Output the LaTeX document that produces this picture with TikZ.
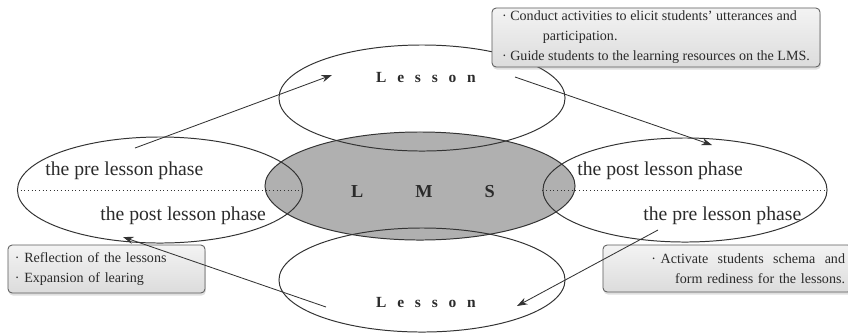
\documentclass[tikz,border=0pt]{standalone}
\usepackage{fontspec}
\setmainfont{Liberation Serif}
\newfontfamily\spacedfont[LetterSpace=70]{Liberation Serif}
\usetikzlibrary{arrows.meta,shapes.geometric,shadows}
\definecolor{Ink}{HTML}{2B2B2B}
\definecolor{Line}{HTML}{333333}
\definecolor{LmsGray}{HTML}{B0B0B0}
\definecolor{BoxTop}{HTML}{F3F3F3}
\definecolor{BoxBot}{HTML}{DCDCDC}
\definecolor{BoxRule}{HTML}{5A5A5A}

\begin{document}
\begin{tikzpicture}[x=0.025cm,y=-0.025cm,
          ring/.style={draw=Line,line width=0.7pt,ellipse,inner sep=0pt},
          phase/.style={font=\fontsize{14}{16}\selectfont,text=Ink,inner sep=0pt},
          lesson/.style={font=\spacedfont\bfseries\fontsize{11}{13}\selectfont,text=Ink,inner sep=0pt},
          note/.style={draw=BoxRule,line width=0.6pt,rounded corners=3pt,
            top color=BoxTop,bottom color=BoxBot,
            drop shadow={shadow xshift=0.5pt,shadow yshift=-1.8pt,opacity=0.25},
            font=\fontsize{10}{14.2}\selectfont,text=Ink,inner xsep=5pt,inner ysep=0pt},
          flow/.style={-{Stealth[length=2.6mm,width=1.8mm]},draw=Line,line width=0.6pt},
          divide/.style={draw=Line,line width=0.6pt,dotted}]
        \useasboundingbox (0,0) rectangle (848,332);
        % the five rings
        \node[ring,fill=LmsGray,minimum width=7.75cm,minimum height=2.7cm] (lms) at (420,186) {};
        \node[ring,minimum width=7.15cm,minimum height=2.65cm] (toplesson) at (422,98) {};
        \node[ring,minimum width=7.15cm,minimum height=2.6cm] (botlesson) at (422,280) {};
        \node[ring,minimum width=7.125cm,minimum height=2.65cm] (leftphase) at (160,190) {};
        \node[ring,minimum width=7.1cm,minimum height=2.6cm] (rightphase) at (685,190) {};
        \draw[divide] (leftphase.west) -- (leftphase.east);
        \draw[divide] (rightphase.west) -- (rightphase.east);
        % labels
        \node[lesson,anchor=base] (toplabel) at (426,82) {Lesson};
        \node[lesson,anchor=base] (botlabel) at (426,307) {Lesson};
        \node[font=\bfseries\fontsize{13}{15}\selectfont,text=Ink,inner sep=0pt,anchor=base]
          (lmslabel) at (423,197) {L\hspace{37pt}M\hspace{37pt}S};
        \node[phase,anchor=base west] (leftpre) at (45,175) {the pre lesson phase};
        \node[phase,anchor=base west] (leftpost) at (100,220) {the post lesson phase};
        \node[phase,anchor=base west] (rightpost) at (577,175) {the post lesson phase};
        \node[phase,anchor=base west] (rightpre) at (643,220) {the pre lesson phase};
        % notes
        \node[note,minimum width=8.2cm,minimum height=1.475cm,align=left] (notetop) at (656,37.5)
          {· Conduct activities to elicit students' utterances and\\
           \hspace*{29pt}participation.\\
           · Guide students to the learning resources on the LMS.};
        \node[note,minimum width=4.925cm,minimum height=1.2cm,text width=4.575cm,align=left]
          (noteleft) at (106.5,269) {· Reflection of the lessons\\· Expansion of learing};
        \node[note,minimum width=6.225cm,minimum height=1.175cm,text width=5.875cm,align=right]
          (noteright) at (727.5,268.5) {· Activate\ \ students\ \ schema\ \ and\\form rediness for the lessons.};
        % cycle arrows
        \coordinate (leftgo) at (135,148);
        \coordinate (topcome) at (332,75);
        \coordinate (topgo) at (515,77);
        \coordinate (rightcome) at (712,145);
        \coordinate (rightgo) at (658,230);
        \coordinate (botcome) at (517,306);
        \coordinate (botgo) at (326,307);
        \coordinate (leftcome) at (123,237);
        \draw[flow] (leftgo)--(topcome);
        \draw[flow] (topgo)--(rightcome);
        \draw[flow] (rightgo)--(botcome);
        \draw[flow] (botgo)--(leftcome);
      \end{tikzpicture}
\end{document}
